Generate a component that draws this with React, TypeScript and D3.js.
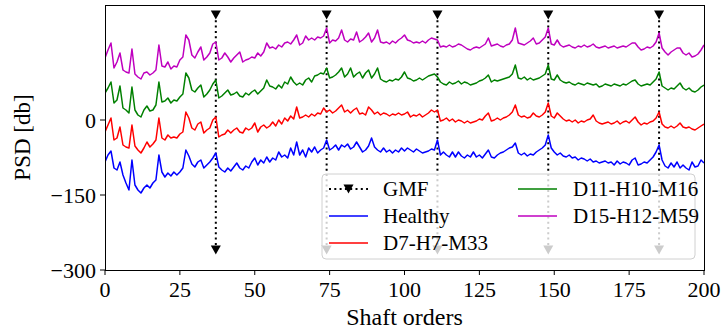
import React from "react";
import * as d3 from "d3";

const ORDERS: number[] = d3.range(0, 201);

const healthy: number[] = [
  -84, -70, -62, -96, -100, -84, -110, -126, -140, -80,
  -130, -140, -146, -136, -130, -136, -126, -120, -70, -104,
  -114, -106, -112, -104, -110, -104, -96, -60, -72, -88,
  -94, -84, -80, -96, -90, -84, -76, -66, -94, -100,
  -104, -96, -102, -94, -86, -96, -100, -92, -96, -84,
  -76, -90, -80, -86, -74, -84, -76, -80, -64, -74,
  -70, -76, -56, -70, -44, -70, -60, -74, -56, -64,
  -54, -66, -60, -56, -40, -60, -56, -50, -60, -50,
  -54, -48, -58, -54, -44, -54, -64, -60, -52, -36,
  -54, -60, -64, -56, -64, -60, -66, -60, -64, -56,
  -62, -56, -60, -64, -58, -62, -66, -64, -62, -58,
  -60, -40, -70, -64, -70, -74, -64, -74, -64, -72,
  -76, -70, -74, -64, -74, -70, -76, -68, -60, -74,
  -76, -70, -66, -64, -60, -56, -54, -46, -66, -70,
  -66, -72, -68, -70, -64, -60, -56, -50, -30, -56,
  -64, -70, -66, -72, -74, -70, -76, -74, -80, -76,
  -78, -82, -78, -84, -82, -86, -84, -82, -86, -84,
  -90, -82, -88, -84, -86, -90, -80, -76, -90, -88,
  -84, -86, -80, -74, -64, -50, -80, -92, -96, -86,
  -94, -84, -96, -90, -96, -100, -84, -94, -92, -80,
  -86,
];

const d7h7m33: number[] = [
  -24, -10, 4, -40, -36, -14, -50, -54, -56, -10,
  -52, -60, -66, -56, -44, -54, -48, -40, 4, -36,
  -40, -30, -36, -34, -36, -28, -24, 16, 4, -16,
  -20, -8, -4, -26, -20, -16, 0, 6, -34, -30,
  -28, -20, -26, -20, -16, -24, -26, -16, -20, -16,
  -6, -24, -14, -10, -16, -12, -4, -12, 0, -8,
  4, -2, 8, 2, 26, 4, 6, 10, 6, 12,
  8, 14, 12, 24, 16, 20, 14, 18, 24, 30,
  16, 20, 14, 20, 24, 12, 14, 10, 26, 20,
  12, 16, 10, 14, 12, 8, 12, 10, 14, 10,
  12, 16, 6, 10, 8, 12, 6, 10, 14, 20,
  16, 20, -2, 0, 4, -2, 2, -4, 0, -2,
  -6, -2, -6, -4, -2, 2, 0, 8, 14, -2,
  0, 4, 0, 4, 6, 10, 16, 30, 10, 6,
  8, 4, 6, 14, 8, 6, 10, 16, 34, 8,
  4, 14, 8, 2, -2, 0, -4, 0, -6, -2,
  -4, 0, 2, 10, -2, -6, -8, -6, -4, -8,
  -6, -2, -8, -4, -2, -6, 0, 6, -4, -10,
  -6, -8, -4, -2, 4, 16, -8, -14, -16, -12,
  -16, -12, -6, -14, -16, -14, -18, -20, -16, -12,
  -8,
];

const d11h10m16: number[] = [
  54, 64, 76, 34, 40, 68, 24, 20, 14, 66,
  20, 10, 6, 20, 28, 18, 20, 30, 76, 36,
  38, 44, 34, 40, 38, 46, 52, 94, 84, 60,
  56, 64, 70, 46, 52, 60, 72, 80, 44, 48,
  54, 60, 50, 52, 56, 48, 46, 54, 50, 56,
  60, 52, 58, 64, 80, 68, 66, 62, 70, 64,
  76, 72, 86, 76, 70, 74, 70, 80, 84, 76,
  88, 90, 94, 92, 104, 84, 86, 90, 96, 104,
  86, 92, 104, 86, 92, 96, 84, 94, 100, 84,
  92, 104, 82, 78, 76, 80, 78, 82, 80, 86,
  96, 84, 82, 78, 80, 84, 80, 84, 88, 90,
  92, 86, 76, 72, 70, 76, 72, 74, 78, 72,
  76, 74, 70, 72, 74, 78, 80, 84, 90, 76,
  80, 78, 80, 82, 84, 86, 92, 110, 84, 82,
  86, 80, 84, 80, 82, 84, 88, 92, 110, 82,
  80, 90, 80, 76, 74, 76, 72, 70, 74, 72,
  70, 74, 72, 70, 72, 66, 68, 72, 70, 68,
  72, 70, 68, 72, 70, 74, 78, 80, 72, 68,
  70, 72, 70, 76, 82, 96, 68, 64, 60, 64,
  62, 68, 74, 64, 60, 64, 58, 56, 60, 66,
  70,
];

const d15h12m59: number[] = [
  124, 140, 154, 104, 116, 134, 100, 96, 94, 142,
  92, 86, 82, 94, 96, 90, 94, 100, 150, 108,
  106, 116, 102, 108, 106, 120, 126, 170, 160, 130,
  124, 136, 146, 120, 126, 134, 152, 156, 120, 124,
  134, 126, 116, 124, 130, 136, 116, 120, 122, 126,
  124, 134, 128, 136, 154, 144, 146, 142, 150, 146,
  154, 156, 152, 160, 170, 150, 154, 168, 160, 164,
  160, 166, 164, 168, 184, 154, 160, 158, 164, 180,
  160, 156, 162, 160, 176, 156, 160, 166, 174, 156,
  164, 180, 156, 154, 156, 152, 158, 154, 160, 164,
  170, 160, 158, 154, 156, 154, 158, 154, 160, 164,
  162, 160, 146, 148, 146, 150, 146, 148, 152, 150,
  146, 142, 140, 144, 146, 144, 148, 152, 164, 148,
  150, 152, 148, 146, 150, 152, 160, 184, 154, 152,
  150, 154, 158, 164, 152, 154, 160, 166, 184, 152,
  150, 160, 150, 146, 148, 150, 146, 144, 148, 146,
  150, 146, 148, 152, 146, 144, 146, 148, 144, 146,
  148, 144, 146, 148, 146, 150, 154, 154, 146, 140,
  142, 146, 144, 148, 156, 174, 144, 136, 130, 136,
  140, 144, 144, 134, 130, 134, 126, 128, 132, 140,
  150,
];

const GMF_ORDERS: number[] = [37, 74, 111, 148, 185];
const GMF_TOP = 210;
const GMF_BOTTOM = -260;

const X_TICKS: number[] = [0, 25, 50, 75, 100, 125, 150, 175, 200];
const Y_TICKS: number[] = [-300, -150, 0];

const SERIES_NAMES: string[] = ["Healthy", "D7-H7-M33", "D11-H10-M16", "D15-H12-M59"];
const SERIES_COLORS: string[] = ["#0000ff", "#ff0000", "#008000", "#bf00bf"];
const SERIES_DATA: number[][] = [healthy, d7h7m33, d11h10m16, d15h12m59];

const W = 723;
const H = 333;
const M = { left: 105, right: 704, top: 5, bottom: 270 };
const FONT = "'Liberation Serif', 'Times New Roman', serif";

function tri(cx: number, cy: number, s = 5) {
  return `M${cx - s},${cy - s * 0.9}L${cx + s},${cy - s * 0.9}L${cx},${cy + s * 0.9}Z`;
}

function fmt(v: number) {
  return v < 0 ? "\u2212" + Math.abs(v) : String(v);
}

export default function App() {
  const x = d3.scaleLinear().domain([0, 200]).range([M.left, M.right]);
  const y = d3.scaleLinear().domain([-300, 230]).range([M.bottom, M.top]);

  const line = d3
    .line<number>()
    .x((_, i) => x(ORDERS[i]))
    .y((d) => y(d));

  const legX = 322;
  const legY = 174;
  const legW = 373;
  const legH = 85;
  const rows = [189, 216, 243];

  return (
    <svg width={W} height={H} style={{ position: "absolute", left: 0, top: 0, background: "#fff" }}>
      <rect x={0} y={0} width={W} height={H} fill="#fff" />
      <defs>
        <clipPath id="plotclip">
          <rect x={M.left} y={M.top} width={M.right - M.left} height={M.bottom - M.top} />
        </clipPath>
      </defs>

      <g clipPath="url(#plotclip)">
        {GMF_ORDERS.map((o) => (
          <g key={o}>
            <line
              x1={x(o)}
              x2={x(o)}
              y1={y(GMF_TOP)}
              y2={y(GMF_BOTTOM)}
              stroke="#000"
              strokeWidth={2}
              strokeDasharray="2,3.3"
            />
            <path d={tri(x(o), y(GMF_TOP))} fill="#000" />
            <path d={tri(x(o), y(GMF_BOTTOM))} fill="#000" />
          </g>
        ))}
        {SERIES_DATA.map((data, k) => (
          <path
            key={k}
            d={line(data) || ""}
            fill="none"
            stroke={SERIES_COLORS[k]}
            strokeWidth={1.5}
            strokeLinejoin="round"
          />
        ))}
      </g>

      <rect
        x={M.left}
        y={M.top}
        width={M.right - M.left}
        height={M.bottom - M.top}
        fill="none"
        stroke="#000"
        strokeWidth={1}
        shapeRendering="crispEdges"
      />

      {X_TICKS.map((t) => (
        <g key={"x" + t}>
          <line x1={x(t)} x2={x(t)} y1={M.bottom} y2={M.bottom + 5} stroke="#000" strokeWidth={1} />
          <text
            x={x(t)}
            y={M.bottom + 27}
            textAnchor="middle"
            fontFamily={FONT}
            fontSize={22}
            fill="#000"
          >
            {fmt(t)}
          </text>
        </g>
      ))}

      {Y_TICKS.map((t) => (
        <g key={"y" + t}>
          <line x1={M.left - 5} x2={M.left} y1={y(t)} y2={y(t)} stroke="#000" strokeWidth={1} />
          <text
            x={M.left - 9}
            y={y(t)}
            textAnchor="end"
            dominantBaseline="central"
            fontFamily={FONT}
            fontSize={22}
            fill="#000"
          >
            {fmt(t)}
          </text>
        </g>
      ))}

      <text
        x={(M.left + M.right) / 2}
        y={325}
        textAnchor="middle"
        fontFamily={FONT}
        fontSize={24}
        fill="#000"
      >
        Shaft orders
      </text>
      <text
        transform={`translate(30,${(M.top + M.bottom) / 2}) rotate(-90)`}
        textAnchor="middle"
        fontFamily={FONT}
        fontSize={23}
        fill="#000"
      >
        PSD [db]
      </text>

      <rect
        x={legX}
        y={legY}
        width={legW}
        height={legH}
        rx={4}
        ry={4}
        fill="#fff"
        fillOpacity={0.8}
        stroke="#d0d0d0"
        strokeWidth={1}
      />
      <g>
        <line x1={329} x2={368} y1={rows[0]} y2={rows[0]} stroke="#000" strokeWidth={2} strokeDasharray="2,3.3" />
        <path d={tri(348.5, rows[0])} fill="#000" />
        <text x={383} y={rows[0]} dominantBaseline="central" fontFamily={FONT} fontSize={21} fill="#000">
          GMF
        </text>
        {SERIES_NAMES.map((name, k) => {
          const col = k < 2 ? 0 : 1;
          const row = k < 2 ? k + 1 : k - 2;
          const hx = col === 0 ? 329 : 518;
          const tx = col === 0 ? 383 : 573;
          return (
            <g key={name}>
              <line x1={hx} x2={hx + 39} y1={rows[row]} y2={rows[row]} stroke={SERIES_COLORS[k]} strokeWidth={1.5} />
              <text x={tx} y={rows[row]} dominantBaseline="central" fontFamily={FONT} fontSize={21} fill="#000">
                {name}
              </text>
            </g>
          );
        })}
      </g>
    </svg>
  );
}
